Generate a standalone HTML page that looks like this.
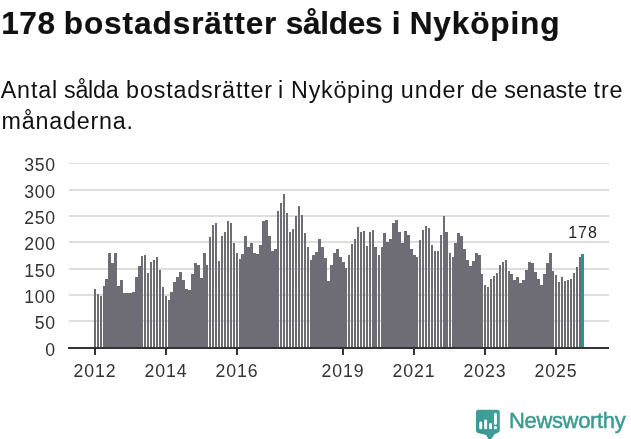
<!DOCTYPE html>
<html><head><meta charset="utf-8"><title>178 bostadsrätter såldes i Nyköping</title>
<style>
html,body{margin:0;padding:0;background:#fff}
body{width:631px;height:439px;position:relative;overflow:hidden;font-family:"Liberation Sans",sans-serif;color:#111}
#t{position:absolute;left:1px;top:2px;font-size:31.6px;letter-spacing:0.5px;font-weight:bold;line-height:43px;white-space:nowrap;-webkit-text-stroke:0.22px #111;}
#s{position:absolute;left:0.5px;top:75px;font-size:23.3px;letter-spacing:0.52px;line-height:30.8px;width:640px}
.yl{position:absolute;left:0;width:55.8px;text-align:right;font-size:17.7px;letter-spacing:0.7px;line-height:20px;margin-top:-9px;color:#333}
.xl{position:absolute;top:361px;width:60px;text-align:center;font-size:17.7px;letter-spacing:0.9px;line-height:20px;color:#333}
#v{position:absolute;left:553.4px;top:223px;width:60px;text-align:center;font-size:16px;letter-spacing:0.9px;line-height:20px;color:#222}
#logo{position:absolute;left:509px;top:409px;font-size:22px;letter-spacing:-0.35px;line-height:24px;color:#3d9b92;white-space:nowrap;-webkit-text-stroke:0.5px #3d9b92;}
#t,#s,.yl,.xl,#v,#logo{will-change:transform}
</style></head><body>
<div id="t"><span style="letter-spacing:0.50px;margin-left:0.30px">178</span> <span style="letter-spacing:0.90px;margin-left:-1.10px">bostadsrätter</span> <span style="letter-spacing:-0.30px;margin-left:-0.89px">såldes</span> <span style="letter-spacing:0.50px;margin-left:0.16px">i</span> <span style="letter-spacing:0.84px;margin-left:-0.57px">Nyköping</span></div>
<div id="s"><span style="letter-spacing:0.86px;margin-left:-0.30px">Antal</span> <span style="letter-spacing:-0.30px;margin-left:-1.01px">sålda</span> <span style="letter-spacing:0.83px;margin-left:0.80px">bostadsrätter</span> <span style="letter-spacing:0.50px;margin-left:-1.77px">i</span> <span style="letter-spacing:0.73px;margin-left:0.32px">Nyköping</span> <span style="letter-spacing:0.95px;margin-left:-0.27px">under</span> <span style="letter-spacing:0.50px;margin-left:-1.05px">de</span> <span style="letter-spacing:0.23px;margin-left:-0.92px">senaste</span> <span style="letter-spacing:0.95px;margin-left:-0.87px">tre</span><br><span style="letter-spacing:0.77px;margin-left:0.60px">månaderna.</span></div>
<svg width="631" height="439" viewBox="0 0 631 439" shape-rendering="crispEdges" style="position:absolute;left:0;top:0">
<rect x="69" y="163" width="540" height="1" fill="#dedede"/>
<rect x="69" y="189" width="540" height="2" fill="#dedede"/>
<rect x="69" y="215" width="540" height="2" fill="#dedede"/>
<rect x="69" y="241" width="540" height="2" fill="#dedede"/>
<rect x="69" y="268" width="540" height="2" fill="#dedede"/>
<rect x="69" y="294" width="540" height="2" fill="#dedede"/>
<rect x="69" y="320" width="540" height="2" fill="#dedede"/>
<path fill="#6e6d75" d="M94 347V289H96V347zM97 347V294H99V347zM100 347V296H102V347zM103 347V286H105V347zM105 347V279H108V347zM108 347V253H111V347zM111 347V263H114V347zM114 347V253H117V347zM117 347V286H120V347zM120 347V280H123V347zM123 347V293H126V347zM126 347V293H129V347zM129 347V293H132V347zM132 347V292H135V347zM135 347V277H138V347zM138 347V266H141V347zM141 347V256H143V347zM144 347V255H146V347zM147 347V273H149V347zM150 347V262H152V347zM153 347V260H155V347zM156 347V257H158V347zM159 347V270H161V347zM162 347V287H164V347zM165 347V296H167V347zM168 347V300H170V347zM170 347V292H173V347zM173 347V282H176V347zM176 347V277H179V347zM179 347V272H182V347zM182 347V280H185V347zM185 347V289H188V347zM188 347V290H191V347zM191 347V274H194V347zM194 347V263H197V347zM197 347V265H200V347zM200 347V278H203V347zM203 347V253H206V347zM206 347V265H208V347zM209 347V237H211V347zM212 347V225H214V347zM215 347V223H217V347zM218 347V261H220V347zM221 347V236H223V347zM224 347V232H226V347zM227 347V221H229V347zM230 347V223H232V347zM233 347V243H235V347zM236 347V253H238V347zM239 347V259H241V347zM241 347V254H244V347zM244 347V236H247V347zM247 347V247H250V347zM250 347V243H253V347zM253 347V253H256V347zM256 347V254H259V347zM259 347V245H262V347zM262 347V221H265V347zM265 347V220H268V347zM268 347V236H271V347zM271 347V251H274V347zM274 347V249H277V347zM277 347V211H279V347zM280 347V203H282V347zM283 347V194H285V347zM286 347V213H288V347zM289 347V232H291V347zM292 347V229H294V347zM295 347V216H297V347zM298 347V206H300V347zM301 347V215H303V347zM304 347V233H306V347zM307 347V247H309V347zM310 347V260H312V347zM312 347V255H315V347zM315 347V252H318V347zM318 347V239H321V347zM321 347V247H324V347zM324 347V258H327V347zM327 347V281H330V347zM330 347V265H333V347zM333 347V253H336V347zM336 347V249H339V347zM339 347V257H342V347zM342 347V262H345V347zM345 347V268H347V347zM348 347V255H350V347zM351 347V244H353V347zM354 347V239H356V347zM357 347V227H359V347zM360 347V232H362V347zM363 347V231H365V347zM366 347V246H368V347zM369 347V232H371V347zM372 347V230H374V347zM374 347V247H377V347zM378 347V255H380V347zM381 347V247H383V347zM383 347V233H386V347zM386 347V242H389V347zM389 347V239H392V347zM392 347V223H395V347zM395 347V220H398V347zM398 347V232H401V347zM401 347V243H404V347zM404 347V231H407V347zM407 347V235H410V347zM410 347V249H413V347zM413 347V255H416V347zM416 347V257H418V347zM419 347V240H421V347zM422 347V230H424V347zM425 347V226H427V347zM428 347V228H430V347zM431 347V245H433V347zM434 347V251H436V347zM437 347V251H439V347zM440 347V235H442V347zM443 347V216H445V347zM445 347V232H448V347zM449 347V253H451V347zM452 347V257H454V347zM454 347V243H457V347zM457 347V233H460V347zM460 347V236H463V347zM463 347V249H466V347zM466 347V260H469V347zM469 347V266H472V347zM472 347V261H475V347zM475 347V253H478V347zM478 347V255H481V347zM481 347V274H483V347zM484 347V285H486V347zM487 347V287H489V347zM490 347V279H492V347zM493 347V276H495V347zM496 347V273H498V347zM499 347V265H501V347zM502 347V262H504V347zM505 347V260H507V347zM508 347V271H510V347zM510 347V274H513V347zM513 347V280H516V347zM516 347V277H519V347zM519 347V283H522V347zM522 347V280H525V347zM525 347V270H528V347zM528 347V262H531V347zM531 347V263H534V347zM534 347V272H537V347zM537 347V279H540V347zM540 347V285H543V347zM543 347V274H546V347zM546 347V263H549V347zM549 347V253H552V347zM552 347V271H554V347zM555 347V275H557V347zM558 347V282H560V347zM561 347V277H563V347zM564 347V281H566V347zM567 347V280H569V347zM570 347V279H572V347zM573 347V273H575V347zM576 347V267H578V347zM579 347V257H581V347z"/>
<rect x="581" y="254" width="3" height="93" fill="#1a9c92"/>
<rect x="68" y="347" width="541" height="2" fill="#333333"/>
<rect x="94" y="349" width="2" height="6" fill="#333333"/>
<rect x="165" y="349" width="2" height="6" fill="#333333"/>
<rect x="236" y="349" width="2" height="6" fill="#333333"/>
<rect x="342" y="349" width="2" height="6" fill="#333333"/>
<rect x="413" y="349" width="2" height="6" fill="#333333"/>
<rect x="484" y="349" width="2" height="6" fill="#333333"/>
<rect x="555" y="349" width="2" height="6" fill="#333333"/>
</svg>
<div class="yl" style="top:164.3px">350</div><div class="yl" style="top:190.7px">300</div><div class="yl" style="top:217px">250</div><div class="yl" style="top:243.4px">200</div><div class="yl" style="top:269.7px">150</div><div class="yl" style="top:296.1px">100</div><div class="yl" style="top:322.4px">50</div><div class="yl" style="top:348.8px">0</div>
<div class="xl" style="left:65.3px">2012</div><div class="xl" style="left:136.3px">2014</div><div class="xl" style="left:207.3px">2016</div><div class="xl" style="left:313.3px">2019</div><div class="xl" style="left:384.3px">2021</div><div class="xl" style="left:455.3px">2023</div><div class="xl" style="left:526.3px">2025</div>
<div id="v">178</div>
<svg width="40" height="40" viewBox="470 402 40 40" style="position:absolute;left:470px;top:402px;overflow:visible">
<defs><linearGradient id="lg" x1="0" y1="1" x2="1" y2="0"><stop offset="0" stop-color="#3a9499"/><stop offset="1" stop-color="#41a394"/></linearGradient></defs>
<path fill="url(#lg)" d="M478.4 409.8H497.4Q499.8 409.8 499.8 412.2V430Q499.8 432 498 432.7L494.6 434.2L489.4 441.5L486.2 435L478 432.9Q476 432.4 476 430.4V412.2Q476 409.8 478.4 409.8z"/>
<g fill="#fff"><rect x="479.3" y="421.6" width="2.9" height="7.7" rx="1.4"/><rect x="484.2" y="419.6" width="2.9" height="9.7" rx="1.4"/><rect x="489.1" y="423.1" width="2.9" height="6.2" rx="1.4"/><rect x="494" y="413" width="2.9" height="11.9" rx="1.4"/><rect x="494" y="425.9" width="2.9" height="3.4" rx="1.4"/></g>
</svg>
<div id="logo">Newsworthy</div>
</body></html>
